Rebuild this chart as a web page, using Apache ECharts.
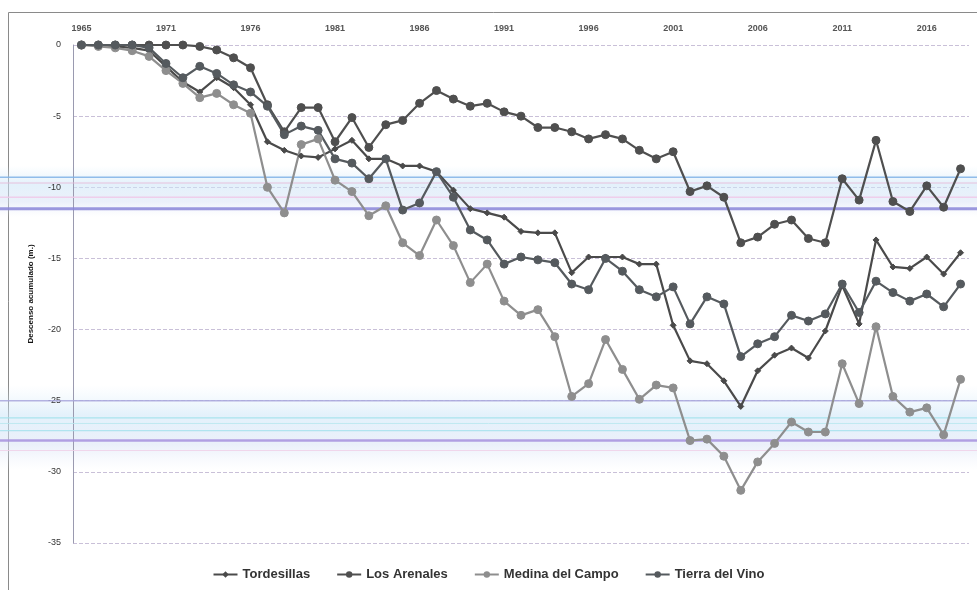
<!DOCTYPE html>
<html><head><meta charset="utf-8">
<script src="https://cdn.jsdelivr.net/npm/echarts@6/dist/echarts.min.js"></script>
<style>html,body{margin:0;padding:0;background:#fff}#c{width:977px;height:590px}</style>
</head><body><div id="c"></div>
<script>
const years = ['1965','1967','1968','1969','1970','1971','1972','1973','1974','1975','1976','1977','1978','1979','1980',
'1981','1982','1983','1984','1985','1986','1987','1988','1989','1990','1991','1992','1993','1994','1995','1996','1997',
'1998','1999','2000','2001','2002','2003','2004','2005','2006','2007','2008','2009','2010','2011','2012','2013','2014',
'2015','2016','2017','2018'];

const tordesillas = [0,0,-0.1,-0.2,-0.4,-1.5,-2.6,-3.3,-2.3,-3.0,-4.2,-6.8,-7.4,-7.8,-7.9,
-7.3,-6.7,-8.0,-8.0,-8.5,-8.5,-8.9,-10.2,-11.5,-11.8,-12.1,-13.1,-13.2,-13.2,-16.0,-14.9,-14.9,
-14.9,-15.4,-15.4,-19.7,-22.2,-22.4,-23.6,-25.4,-22.9,-21.8,-21.3,-22.0,-20.1,-16.9,-19.6,-13.7,-15.6,
-15.7,-14.9,-16.1,-14.6];

const losArenales = [0,0,0,0,0,0,0,-0.1,-0.35,-0.9,-1.6,-4.2,-6.1,-4.4,-4.4,
-6.8,-5.1,-7.2,-5.6,-5.3,-4.1,-3.2,-3.8,-4.3,-4.1,-4.7,-5.0,-5.8,-5.8,-6.1,-6.6,-6.3,
-6.6,-7.4,-8.0,-7.5,-10.3,-9.9,-10.7,-13.9,-13.5,-12.6,-12.3,-13.6,-13.9,-9.4,-10.9,-6.7,-11.0,
-11.7,-9.9,-11.4,-8.7];

const medina = [0,-0.1,-0.2,-0.4,-0.8,-1.8,-2.7,-3.7,-3.4,-4.2,-4.8,-10.0,-11.8,-7.0,-6.6,
-9.5,-10.3,-12.0,-11.3,-13.9,-14.8,-12.3,-14.1,-16.7,-15.4,-18.0,-19.0,-18.6,-20.5,-24.7,-23.8,-20.7,
-22.8,-24.9,-23.9,-24.1,-27.8,-27.7,-28.9,-31.3,-29.3,-28.0,-26.5,-27.2,-27.2,-22.4,-25.2,-19.8,-24.7,
-25.8,-25.5,-27.4,-23.5];

const tierraDelVino = [0,0,0,0,-0.2,-1.3,-2.3,-1.5,-2.0,-2.8,-3.3,-4.3,-6.3,-5.7,-6.0,
-8.0,-8.3,-9.4,-8.0,-11.6,-11.1,-8.9,-10.7,-13.0,-13.7,-15.4,-14.9,-15.1,-15.3,-16.8,-17.2,-15.0,
-15.9,-17.2,-17.7,-17.0,-19.6,-17.7,-18.2,-21.9,-21.0,-20.5,-19.0,-19.4,-18.9,-16.8,-18.8,-16.6,-17.4,
-18.0,-17.5,-18.4,-16.8];

const seriesNames = ['Tordesillas','Los Arenales','Medina del Campo','Tierra del Vino'];

// scan-artifact colour stripes (values on the y scale)
const stripeBands = [[-8.5,-12.1],[-23.9,-29.9]];
const stripeLines = [[-9.3,'#7fb2e6',1.5],[-9.7,'#e8b8d8',1.2],[-10.7,'#f0c8e8',1.5],[-11.5,'#8a86d8',3],
  [-25.0,'#a8a6dc',1.5],[-26.2,'#9fe0ea',1.2],[-26.6,'#b8e8ee',1],[-27.1,'#a6e2ec',1.2],[-27.8,'#a790de',2.5],[-28.5,'#f0d0e8',1.2]];

const chart = echarts.init(document.getElementById('c'));
const font = '"Liberation Sans", "DejaVu Sans", sans-serif';
const dark = '#4f4f4f';
function mk(name, data, color, symbol, size) {
  return {
    name, type:'line', data, symbol, symbolSize:size, z:3,
    lineStyle:{color, width:2.2},
    itemStyle:{color, borderColor:color},
    emphasis:{disabled:true}
  };
}
chart.setOption({
  animation:false,
  backgroundColor:'#fff',
  grid:{left:73, right:8, top:45, bottom:47},
  xAxis:{type:'category', data:years, position:'top', boundaryGap:true,
    axisLine:{show:false}, axisTick:{show:false},
    axisLabel:{interval:4, fontSize:9, fontWeight:'bold', color:'#555', margin:12, fontFamily:font},
    splitLine:{show:false}},
  yAxis:{type:'value', min:-35, max:0, interval:5,
    axisLine:{show:true, lineStyle:{color:'#9a9ab0', width:1}},
    axisTick:{show:false},
    axisLabel:{fontSize:9, color:'#333', margin:12, fontFamily:font},
    splitLine:{lineStyle:{color:'#c9c0d8', type:'dashed', width:1}},
    name:'Descenso acumulado (m.)', nameLocation:'middle', nameGap:38,
    nameTextStyle:{fontSize:8, fontWeight:'bold', color:'#111', fontFamily:font}},
  legend:{data:seriesNames, bottom:4, left:'center', itemWidth:24, itemHeight:8, itemGap:26,
    textStyle:{fontSize:13, fontWeight:'bold', color:'#333', fontFamily:'"Liberation Sans Narrow", "Liberation Sans", sans-serif'}},
  series:[
    mk(seriesNames[0], tordesillas, '#4a4a4a', 'diamond', 6),
    mk(seriesNames[1], losArenales, dark, 'circle', 8),
    mk(seriesNames[2], medina, '#8e8e8e', 'circle', 8),
    mk(seriesNames[3], tierraDelVino, '#555a5e', 'circle', 8)
  ]
});

const gfx = [{type:'rect', shape:{x:8.5, y:12.5, width:980, height:600}, style:{fill:'none', stroke:'#8a8a8a', lineWidth:1}, z:0, silent:true}];
stripeBands.forEach(b => {
  const y1 = chart.convertToPixel({yAxisIndex:0}, b[0]);
  const y2 = chart.convertToPixel({yAxisIndex:0}, b[1]);
  gfx.push({type:'rect', shape:{x:0, y:y1, width:977, height:y2-y1}, silent:true, z:0,
    style:{fill:new echarts.graphic.LinearGradient(0,0,0,1,[
      {offset:0, color:'rgba(215,235,250,0)'},{offset:0.35, color:'rgba(205,230,248,0.55)'},
      {offset:0.7, color:'rgba(215,225,245,0.5)'},{offset:1, color:'rgba(230,235,250,0)'}])}});
});
stripeLines.forEach(l => {
  const y = chart.convertToPixel({yAxisIndex:0}, l[0]);
  gfx.push({type:'line', shape:{x1:0, y1:y, x2:977, y2:y}, silent:true, z:1,
    style:{stroke:l[1], lineWidth:l[2], opacity:0.85}});
});
chart.setOption({graphic:gfx});
</script></body></html>
